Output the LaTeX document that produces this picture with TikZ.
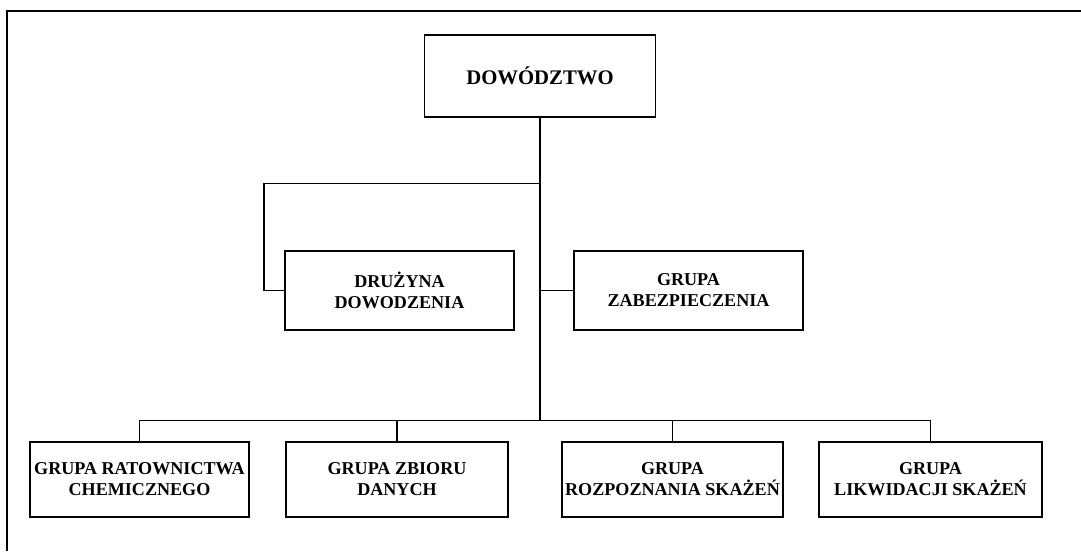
\documentclass[tikz,border=0pt]{standalone}
\usepackage{fontspec}
\setmainfont{Liberation Serif}
\usetikzlibrary{positioning, calc}

\begin{document}
\begin{tikzpicture}[
  x=0.02cm, y=-0.02cm,
  unit/.style={draw, line width=0.9pt, align=center, inner sep=0pt,
    font=\fontsize{10.3}{12}\selectfont\bfseries, minimum width=#1*0.02cm},
  unit/.default=225,
  link/.style={line width=0.8pt},
]
  \useasboundingbox (0,0) rectangle (1081,551);
  % frame of the scan
  \draw[line width=1pt] (7,551) -- (7,11) -- (1081,11);

  % top level
  \node[unit=231, minimum height=1.64cm, font=\fontsize{11.8}{14}\selectfont\bfseries] (dow) at (540,76) {DOWÓDZTWO};

  % second level
  \node[unit=229, minimum height=1.58cm] (druz) at (399.5,290.5) {DRUŻYNA\\DOWODZENIA};
  \node[unit=229, minimum height=1.58cm] (zab) at (688.5,290.5) {GRUPA\\ZABEZPIECZENIA};

  % third level
  \node[unit=219, minimum height=1.5cm] (rat) at (139.5,479.5) {GRUPA RATOWNICTWA\\CHEMICZNEGO};
  \node[unit=222, minimum height=1.5cm] (zbior) at (397,479.5) {GRUPA ZBIORU\\DANYCH};
  \node[unit=221, minimum height=1.5cm] (rozp) at (672.5,479.5) {GRUPA\\ROZPOZNANIA SKAŻEŃ};
  \node[unit=223, minimum height=1.5cm] (likw) at (930.5,479.5) {GRUPA\\LIKWIDACJI SKAŻEŃ};

  % connectors
  \coordinate (split) at ($(dow.south)+(0,66)$);
  \coordinate (bus) at ($(dow.south)+(0,303)$);
  \draw[link] (dow.south) -- (bus);
  \draw[link] (split) -| (264,290.5) -- (druz.west);
  \draw[link] (zab.west) -- (zab.west -| dow.south);
  \draw[link] (rat.north) |- (bus) -| (likw.north);
  \draw[link] (zbior.north) -- (zbior.north |- bus);
  \draw[link] (rozp.north) -- (rozp.north |- bus);
\end{tikzpicture}
\end{document}
